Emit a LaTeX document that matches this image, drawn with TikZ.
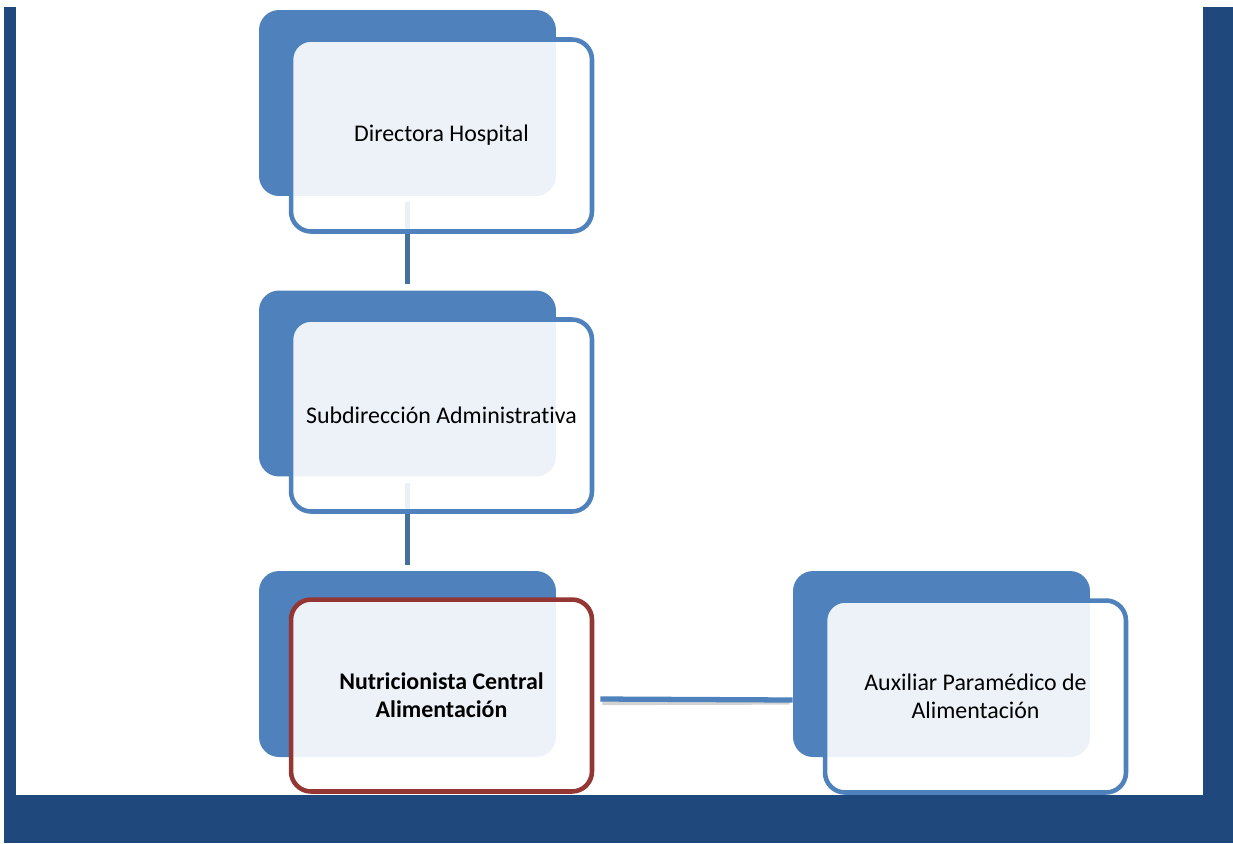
\documentclass[tikz,border=0pt]{standalone}
\usepackage{fontspec}
\setmainfont{Carlito}[Ligatures=NoCommon]
\usetikzlibrary{positioning}

\definecolor{frameblue}{HTML}{1F497D}
\definecolor{boxblue}{HTML}{4F81BD}
\definecolor{linkblue}{HTML}{44709E}
\definecolor{boxred}{HTML}{943634}

\tikzset{
    backbox/.style={rounded corners=0.4cm, fill=boxblue, draw=none,
        minimum width=5.94cm, minimum height=3.72cm},
    frontbox/.style={rounded corners=0.4cm, fill=white, fill opacity=0.9,
        text opacity=1, draw=boxblue, line width=2.6pt,
        minimum width=6.02cm, minimum height=3.84cm, align=center,
        font=\fontsize{13.6}{16}\selectfont},
    redbox/.style={frontbox, draw=boxred},
    vlink/.style={draw=linkblue, line width=2.8pt},
    hlink/.style={draw=boxblue, line width=3pt}
}

\begin{document}
\begin{tikzpicture}[x=0.02cm, y=-0.02cm]
    \useasboundingbox (0,0) rectangle (1233,843);

    % The boxes behind
    \node[backbox] (b1) at (407.5,103) {};
    \node[backbox] (b2) at (407.5,383.5) {};
    \node[backbox] (b3) at (407.5,664) {};
    \node[backbox] (b4) at (941.5,664) {};

    % Links going down the chain
    \draw[vlink] ([yshift=-0.12cm]b1.south) -- ([yshift=0.12cm]b2.north);
    \draw[vlink] ([yshift=-0.12cm]b2.south) -- ([yshift=0.12cm]b3.north);

    % Now the boxes in front, with their text
    \node[frontbox] (f1) at (441.5,135.5) {Directora Hospital};
    \node[frontbox] (f2) at (441.5,415.5) {Subdirecci\'on Administrativa};
    \node[redbox] (f3) at (441.5,695.5) {\textbf{Nutricionista Central}\\\textbf{Alimentaci\'on}};
    \node[frontbox] (f4) at (975.5,696.5) {Auxiliar Param\'edico de\\Alimentaci\'on};

    % Side link, with its shadow
    \draw[black!35, opacity=0.5, line width=3pt]
        ([xshift=0.16cm,yshift=-0.14cm]f3.east) -- ([xshift=-0.06cm,yshift=-0.76cm]b4.west);
    \draw[hlink] ([xshift=0.12cm,yshift=-0.07cm]f3.east) -- ([yshift=-0.72cm]b4.west);

    % Frame round the page
    \fill[frameblue] (4,7) rectangle (16,843);
    \fill[frameblue] (1203,7) rectangle (1233,843);
    \fill[frameblue] (4,795) rectangle (1233,843);
\end{tikzpicture}
\end{document}
